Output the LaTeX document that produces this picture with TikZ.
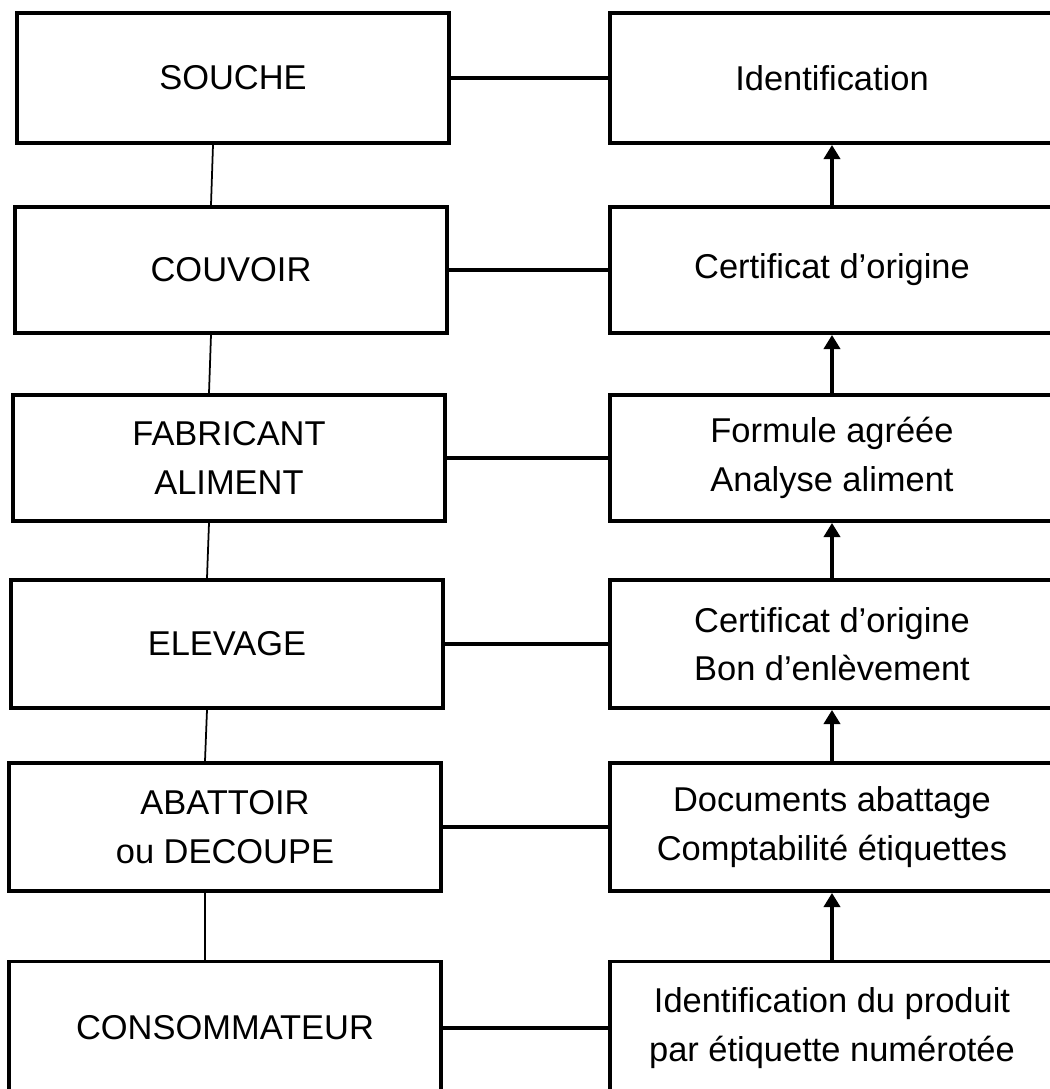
\documentclass[tikz,border=0pt]{standalone}
\usepackage{fontspec}
\setmainfont{Liberation Sans}
\usetikzlibrary{arrows.meta}

\begin{document}
\begin{tikzpicture}[x=0.1mm,y=-0.1mm,>={Triangle[width=4.6pt,length=4pt]},
  font=\fontsize{9.8}{13.8}\selectfont]
\tikzset{etape/.style={draw,line width=1.1pt,align=center,minimum width=43.2mm,inner sep=0pt},
  piece/.style={etape,minimum width=44.4mm}}
\useasboundingbox (0,0) rectangle (1050,1089);
\foreach \i/\y/\h/\xl/\l/\r in {1/78/13/233/SOUCHE/Identification,
  2/270/12.6/231/COUVOIR/Certificat d'origine,
  3/458/12.6/229/{FABRICANT\\ALIMENT}/{Formule agréée\\Analyse aliment},
  4/644/12.8/227/ELEVAGE/{Certificat d'origine\\Bon d'enlèvement},
  5/827/12.8/225/{ABATTOIR\\ou DECOUPE}/{Documents abattage\\Comptabilité étiquettes},
  6/1028/13.3/225/CONSOMMATEUR/{Identification du produit\\par étiquette numérotée}}{
  \node[etape,minimum height=\h mm] (L\i) at (\xl,\y) {\l};
  \node[piece,minimum height=\h mm] (R\i) at (832,\y) {\r};
  \draw[line width=1.1pt] (L\i) -- (R\i);
}
\foreach \i [count=\j from 2] in {1,...,5}{
  \draw[line width=.5pt] ([xshift=-2mm]L\i.south) -- ([xshift=-2mm]L\j.north);
  \draw[->,line width=.9pt] (R\j) -- (R\i);
}
\end{tikzpicture}
\end{document}
